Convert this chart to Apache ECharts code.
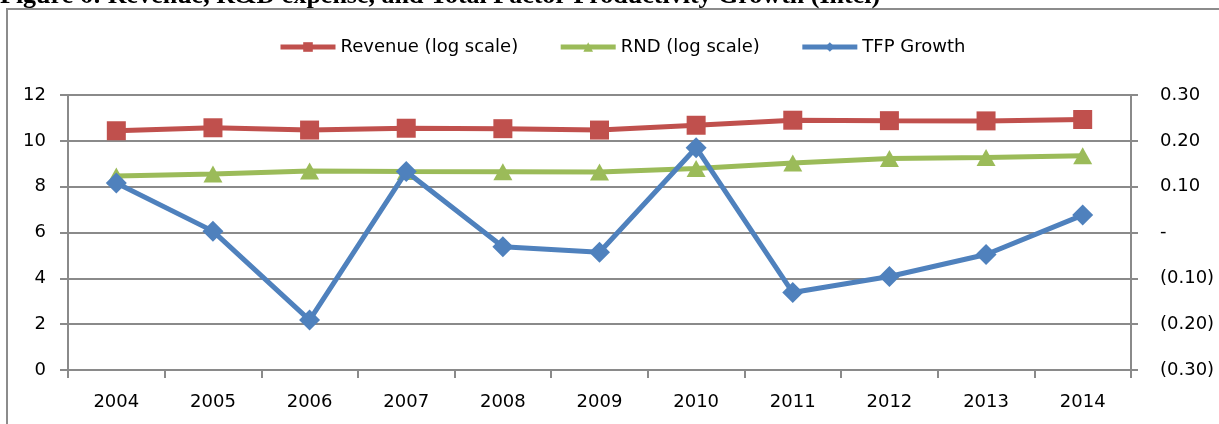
<!DOCTYPE html>
<html>
<head>
<meta charset="utf-8">
<script src="https://cdn.jsdelivr.net/npm/echarts@6/dist/echarts.min.js"></script>
<style>
  html, body { margin: 0; padding: 0; background: #fff; }
  #chart { width: 1219px; height: 424px; }
</style>
</head>
<body>
<div id="chart"></div>
<script>
// Intel, 2004-2014: natural log of revenue and R&D expense, plus TFP growth
const years = ['2004', '2005', '2006', '2007', '2008', '2009', '2010', '2011', '2012', '2013', '2014'];
const revenueLog = [10.44, 10.57, 10.47, 10.55, 10.53, 10.47, 10.68, 10.90, 10.88, 10.87, 10.93];
const rndLog = [8.47, 8.55, 8.68, 8.66, 8.65, 8.64, 8.79, 9.03, 9.23, 9.27, 9.35];
const tfpGrowth = [0.108, 0.003, -0.191, 0.133, -0.031, -0.043, 0.185, -0.131, -0.096, -0.048, 0.038];
const seriesNames = ['Revenue (log scale)', 'RND (log scale)', 'TFP Growth'];
const titleText = 'Figure 6: Revenue, R&D expense, and Total Factor Productivity Growth (Intel)';

const FONT = '"DejaVu Sans", "Noto Sans", sans-serif';
const GRID_GRAY = '#8a8a8a';

// Right-axis labels in accounting style: dash for zero, parentheses for negatives
function accountingLabel(v) {
  if (Math.abs(v) < 1e-9) return '-';
  const s = Math.abs(v).toFixed(2);
  return v < 0 ? '(' + s + ')' : s;
}

const chart = echarts.init(document.getElementById('chart'), null, { renderer: 'canvas' });

chart.setOption({
  backgroundColor: '#ffffff',
  animation: false,
  graphic: [
    {
      type: 'text',
      left: 0,
      top: -17,
      style: {
        text: titleText,
        font: 'bold 26px "Liberation Serif", "Times New Roman", serif',
        fill: '#000'
      }
    },
    {
      type: 'rect',
      shape: { x: 7, y: 9, width: 1300, height: 500 },
      style: { fill: 'none', stroke: '#8c8c8c', lineWidth: 2 },
      z: -1
    }
  ],
  legend: {
    left: 273,
    top: 33,
    itemWidth: 55,
    itemHeight: 12,
    itemGap: 40,
    lineStyle: { width: 5 },
    textStyle: { fontFamily: FONT, fontSize: 18, color: '#000' },
    data: seriesNames
  },
  grid: { left: 68, right: 88, top: 95, bottom: 54, containLabel: false },
  xAxis: {
    type: 'category',
    data: years,
    boundaryGap: true,
    axisLine: { lineStyle: { color: GRID_GRAY, width: 2 } },
    axisTick: { show: true, length: 8, lineStyle: { color: GRID_GRAY, width: 2 } },
    axisLabel: { fontFamily: FONT, fontSize: 18, color: '#000', margin: 23 }
  },
  yAxis: [
    {
      type: 'value',
      min: 0,
      max: 12,
      interval: 2,
      axisLine: { show: true, lineStyle: { color: GRID_GRAY, width: 2 } },
      axisTick: { show: true, length: 8, lineStyle: { color: GRID_GRAY, width: 2 } },
      splitLine: { show: true, lineStyle: { color: GRID_GRAY, width: 2 } },
      axisLabel: { fontFamily: FONT, fontSize: 18, color: '#000', margin: 22 }
    },
    {
      type: 'value',
      min: -0.3,
      max: 0.3,
      interval: 0.1,
      position: 'right',
      axisLine: { show: true, lineStyle: { color: GRID_GRAY, width: 2 } },
      axisTick: { show: true, length: 7, lineStyle: { color: GRID_GRAY, width: 2 } },
      splitLine: { show: false },
      axisLabel: { fontFamily: FONT, fontSize: 18, color: '#000', margin: 29, formatter: accountingLabel }
    }
  ],
  series: [
    {
      name: seriesNames[0],
      type: 'line',
      yAxisIndex: 0,
      data: revenueLog,
      symbol: 'rect',
      symbolSize: 19,
      lineStyle: { color: '#C0504D', width: 5 },
      itemStyle: { color: '#C0504D' },
      z: 2
    },
    {
      name: seriesNames[1],
      type: 'line',
      yAxisIndex: 0,
      data: rndLog,
      symbol: 'triangle',
      symbolSize: [19, 17],
      lineStyle: { color: '#9BBB59', width: 5 },
      itemStyle: { color: '#9BBB59' },
      z: 3
    },
    {
      name: seriesNames[2],
      type: 'line',
      yAxisIndex: 1,
      data: tfpGrowth,
      symbol: 'diamond',
      symbolSize: 21,
      lineStyle: { color: '#4F81BD', width: 5 },
      itemStyle: { color: '#4F81BD' },
      z: 4
    }
  ]
});
</script>
</body>
</html>
